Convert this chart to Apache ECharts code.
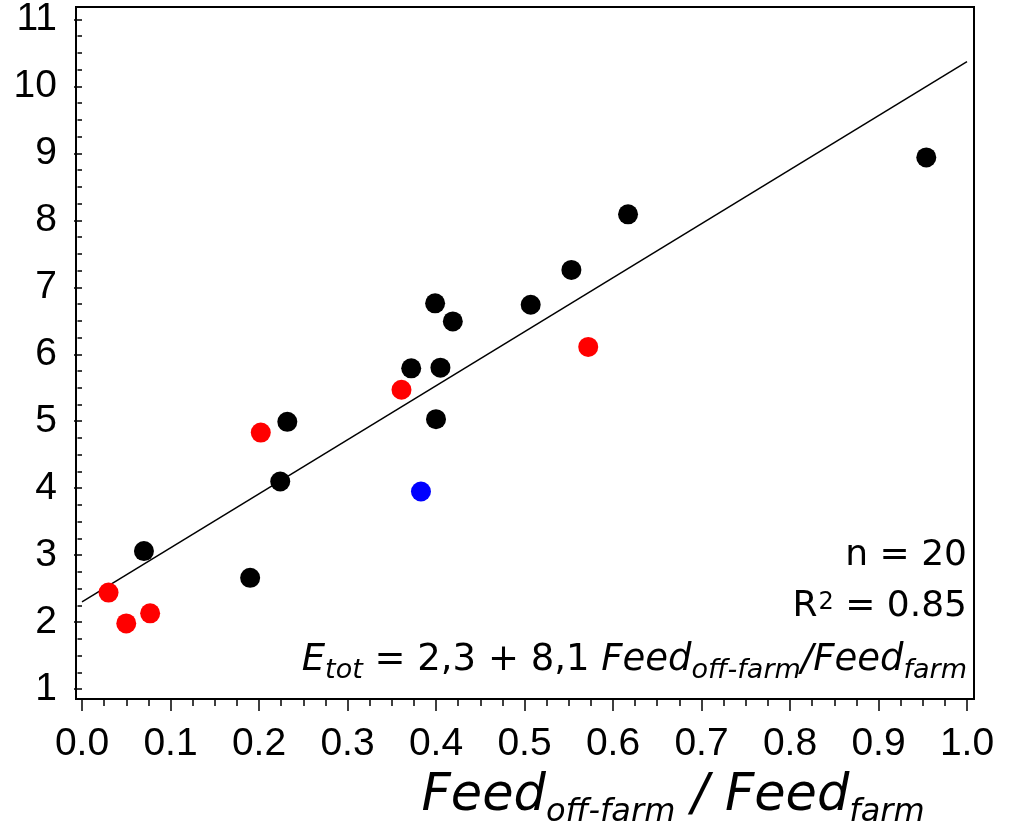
<!DOCTYPE html>
<html>
<head>
    <meta charset="utf-8">
    <title>Etot vs feed ratio</title>
    <script src="https://cdn.jsdelivr.net/npm/echarts@6/dist/echarts.min.js"></script>
    <style>
        html, body { margin: 0; padding: 0; background: #fff; }
        #chart { width: 1012px; height: 827px; }
    </style>
</head>
<body>
<div id="chart"></div>
<script>
    // values: [Feed off-farm / Feed farm, Etot]
    var blackPts = [
        [0.070, 3.06], [0.190, 2.66], [0.224, 4.10], [0.232, 4.99],
        [0.372, 5.79], [0.405, 5.80], [0.399, 6.76], [0.419, 6.49],
        [0.400, 5.03], [0.507, 6.74], [0.553, 7.26], [0.617, 8.09],
        [0.954, 8.94]
    ];
    var redPts = [
        [0.030, 2.44], [0.050, 1.98], [0.077, 2.13],
        [0.202, 4.83], [0.361, 5.47], [0.572, 6.11]
    ];
    var bluePts = [
        [0.383, 3.95]
    ];
    // regression line ends
    var fitX = [0, 1];
    var fitY = [2.3, 10.37];

    var xTicks = {min: 0, max: 1, step: 0.1};
    var yTicks = {min: 1, max: 11, step: 1};

    var fitLine = fitX.map(function (x, i) { return [x, fitY[i]]; });

    var numFont = 'Liberation Sans';
    var txtFont = 'DejaVu Sans';

    var myChart = echarts.init(document.getElementById('chart'));
    myChart.setOption({
        animation: false,
        backgroundColor: '#fff',
        grid: [
            // frame
            {left: 76, top: 7, right: 38, bottom: 128, show: true,
                borderColor: '#000', borderWidth: 2, backgroundColor: 'transparent'},
            // data area
            {left: 82, top: 19.5, right: 45, bottom: 138}
        ],
        xAxis: [
            {gridIndex: 0, type: 'value', show: false, min: 0, max: 1},
            {
                gridIndex: 1, type: 'value', min: xTicks.min, max: xTicks.max, interval: xTicks.step,
                offset: 10,
                axisLine: {show: false},
                axisTick: {show: true, length: 12, lineStyle: {color: '#000', width: 1.5}},
                minorTick: {show: true, splitNumber: 4, length: 7, lineStyle: {color: '#000', width: 1.5}},
                splitLine: {show: false},
                axisLabel: {
                    margin: 26, color: '#000', fontFamily: numFont, fontSize: 39,
                    formatter: function (v) { return v.toFixed(1); }
                }
            }
        ],
        yAxis: [
            {gridIndex: 0, type: 'value', show: false, min: 0, max: 1},
            {
                gridIndex: 1, type: 'value', min: yTicks.min, max: yTicks.max, interval: yTicks.step,
                offset: 6,
                axisLine: {show: false},
                axisTick: {show: true, length: 8, lineStyle: {color: '#000', width: 1.5}},
                minorTick: {show: true, splitNumber: 4, length: 4.5, lineStyle: {color: '#000', width: 1.5}},
                splitLine: {show: false},
                axisLabel: {margin: 19, color: '#000', fontFamily: numFont, fontSize: 39}
            }
        ],
        series: [
            {
                type: 'line', xAxisIndex: 1, yAxisIndex: 1, data: fitLine,
                symbol: 'none', lineStyle: {color: '#000', width: 1.5}, z: 1
            },
            {type: 'scatter', xAxisIndex: 1, yAxisIndex: 1, data: blackPts, symbolSize: 20,
                itemStyle: {color: '#000', opacity: 1}, z: 3},
            {type: 'scatter', xAxisIndex: 1, yAxisIndex: 1, data: redPts, symbolSize: 20,
                itemStyle: {color: '#ff0000', opacity: 1}, z: 3},
            {type: 'scatter', xAxisIndex: 1, yAxisIndex: 1, data: bluePts, symbolSize: 20,
                itemStyle: {color: '#0000ff', opacity: 1}, z: 3}
        ],
        graphic: [
            {
                type: 'text', x: 967, y: 556,
                style: {
                    text: 'n = 20', align: 'right', verticalAlign: 'middle',
                    fontFamily: txtFont, fontSize: 36, fill: '#000'
                }
            },
            {
                type: 'text', x: 967, y: 607,
                style: {
                    text: '{m|R}{sup|2}{m| = 0.85}', align: 'right', verticalAlign: 'middle',
                    rich: {
                        m: {fontFamily: txtFont, fontSize: 36, lineHeight: 40, color: '#000'},
                        sup: {fontFamily: txtFont, fontSize: 24, verticalAlign: 'top', padding: [4, 0, 0, 1], color: '#000'}
                    }
                }
            },
            {
                type: 'text', x: 967, y: 660,
                style: {
                    text: '{i|E}{s|tot}{m| = 2,3 + 8,1 }{i|Feed}{s|off-farm}{i|/Feed}{s|farm}',
                    align: 'right', verticalAlign: 'middle',
                    rich: {
                        m: {fontFamily: txtFont, fontSize: 37, lineHeight: 48, color: '#000'},
                        i: {fontFamily: txtFont, fontSize: 37, lineHeight: 48, fontStyle: 'italic', color: '#000'},
                        s: {fontFamily: txtFont, fontSize: 27, fontStyle: 'italic', verticalAlign: 'bottom', color: '#000'}
                    }
                }
            },
            {
                type: 'text', x: 673, y: 797,
                style: {
                    text: '{i|Feed}{s|off-farm}{i| / Feed}{s|farm}',
                    align: 'center', verticalAlign: 'middle',
                    rich: {
                        i: {fontFamily: txtFont, fontSize: 51, lineHeight: 64, fontStyle: 'italic', color: '#000'},
                        s: {fontFamily: txtFont, fontSize: 32, fontStyle: 'italic', verticalAlign: 'bottom', color: '#000'}
                    }
                }
            }
        ]
    });
</script>
</body>
</html>
